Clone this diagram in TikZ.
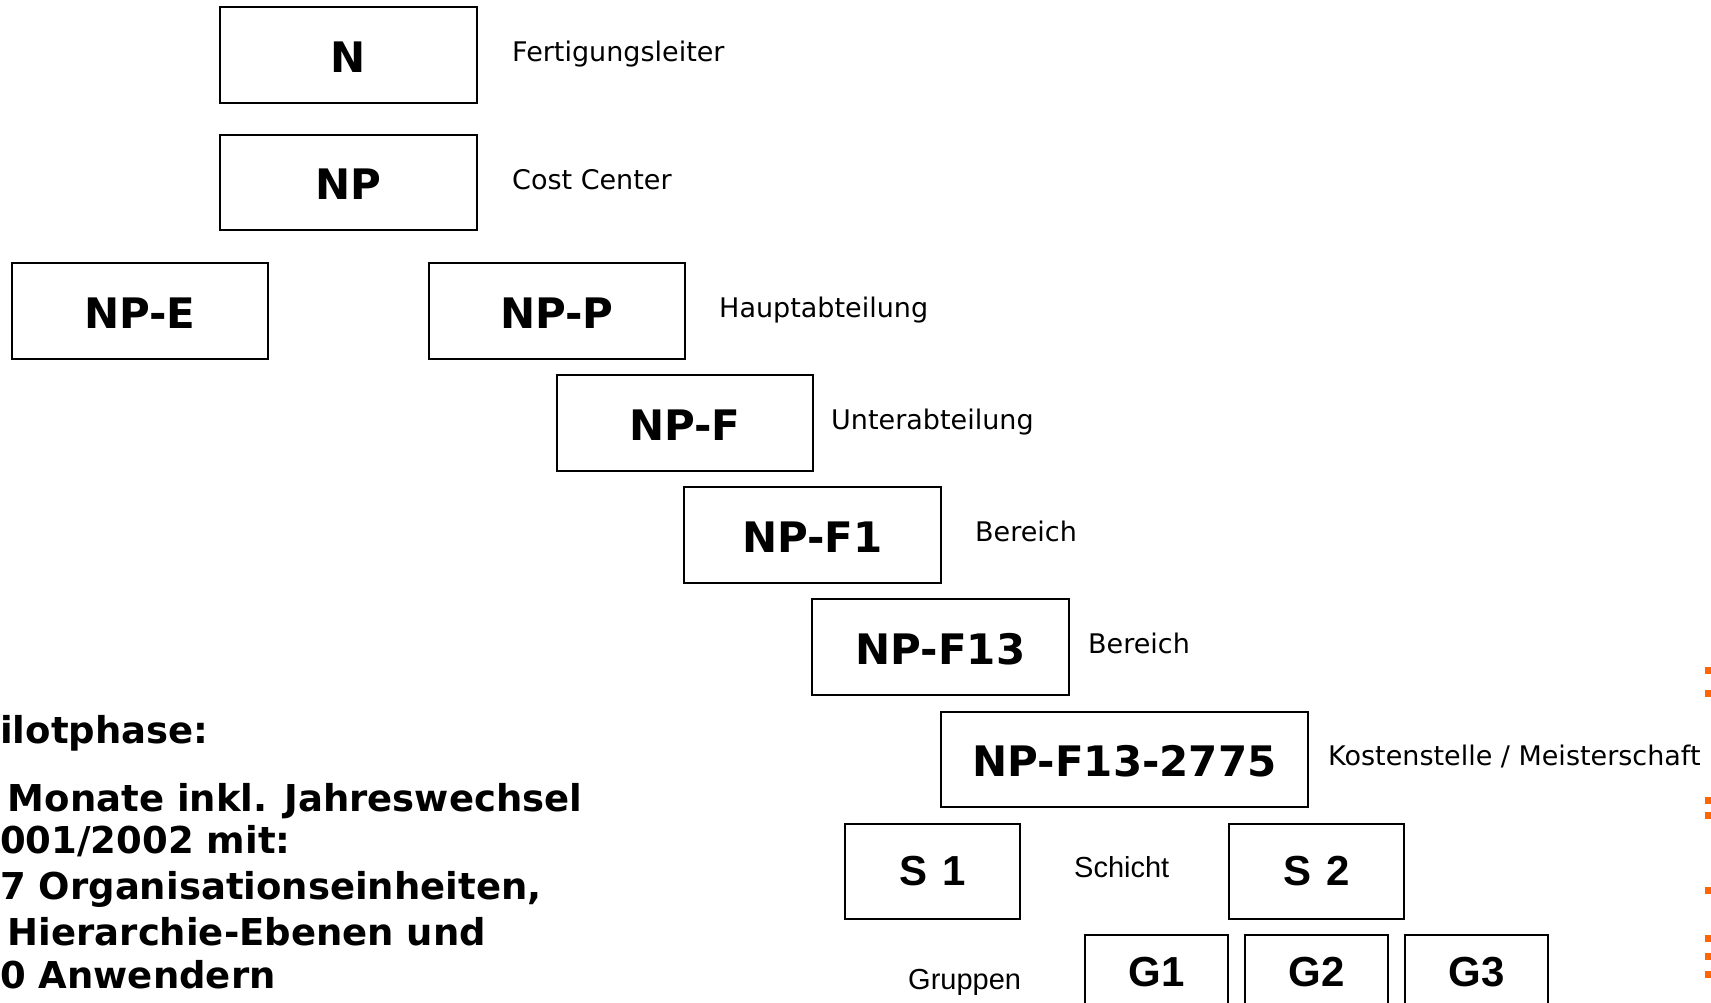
\documentclass[tikz,border=0pt]{standalone}
\usepackage{fontspec}
\setmainfont{DejaVu Sans}
\newfontfamily\arialfont{Liberation Sans}
\definecolor{bullet}{RGB}{255,102,0}
\begin{document}
\begin{tikzpicture}[x=1pt,y=-1pt,
  unit/.style={draw, line width=1.8pt, inner sep=0pt, text height=34.6pt, text depth=0pt,
    font=\fontsize{42}{50}\selectfont\bfseries},
  subunit/.style={draw, line width=1.8pt, inner sep=0pt,
    font=\arialfont\fontsize{42}{50}\selectfont\bfseries},
  lbl/.style={anchor=base west, inner sep=0pt, font=\fontsize{27}{32}\selectfont},
  albl/.style={anchor=base west, inner sep=0pt, font=\arialfont\fontsize{29}{34}\selectfont},
  note/.style={anchor=base west, inner sep=0pt, font=\fontsize{37}{44}\selectfont\bfseries},
  bulletmark/.style={fill=bullet, draw=none}]
\useasboundingbox (0,0) rectangle (1711,1003);
\clip (0,0) rectangle (1711,1003);

% hierarchy boxes
\node[unit, minimum width=257pt, minimum height=96pt] (n)    at (348.5,55)  {N};
\node[unit, minimum width=257pt, minimum height=95pt] (np)   at (348.5,182.5) {NP};
\node[unit, minimum width=256pt, minimum height=96pt] (npe)  at (140,311)   {NP-E};
\node[unit, minimum width=256pt, minimum height=96pt] (npp)  at (557,311)   {NP-P};
\node[unit, minimum width=256pt, minimum height=96pt] (npf)  at (684.75,423) {NP-F};
\node[unit, minimum width=257pt, minimum height=96pt] (npf1) at (812.5,535) {NP-F1};
\node[unit, minimum width=257pt, minimum height=96pt] (npf13) at (940.5,647) {NP-F13};
\node[unit, minimum width=367pt, minimum height=95pt] (kst)  at (1124.5,759.5) {NP-F13-2775};

% shifts and groups
\node[subunit, minimum width=175pt, minimum height=95pt] (s1) at (932.5,871.5) {S\hspace{15pt}1};
\node[subunit, minimum width=175pt, minimum height=95pt] (s2) at (1316.5,871.5) {S\hspace{15pt}2};
\node[subunit, minimum width=143pt, minimum height=75pt] (g1) at (1156.5,972.5) {G1};
\node[subunit, minimum width=143pt, minimum height=75pt] (g2) at (1316.5,972.5) {G2};
\node[subunit, minimum width=143pt, minimum height=75pt] (g3) at (1476.5,972.5) {G3};

% level names
\node[lbl] (l1) at (512,62)  {Fertigungsleiter};
\node[lbl] (l2) at (512,190) {Cost Center};
\node[lbl] (l3) at (719,317) {Hauptabteilung};
\node[lbl] (l4) at (831,429) {Unterabteilung};
\node[lbl] (l5) at (975,541) {Bereich};
\node[lbl] (l6) at (1088,653) {Bereich};
\node[lbl] (l7) at (1328,765) {Kostenstelle / Meisterschaft};
\node[albl] (l8) at (1074,877) {Schicht};
\node[albl] (l9) at (908,989) {Gruppen};

% pilot phase notes
\node[note] (t1) at (0,743)   {ilotphase:};
\node[note] (t2) at (7.6,811) {Monate inkl. Jahreswechsel};
\node[note] (t3) at (0,853)   {001/2002 mit:};
\node[note] (t4) at (0,899)   {7 Organisationseinheiten,};
\node[note] (t5) at (7.6,945) {Hierarchie-Ebenen und};
\node[note] (t6) at (0,988)   {0 Anwendern};

% bullet marks at the right edge
\foreach \yy in {670,693,800,815,890,938,956,974}
  \fill[bulletmark] (1705,\yy-3.5) rectangle (1711,\yy+3.5);
\end{tikzpicture}
\end{document}
